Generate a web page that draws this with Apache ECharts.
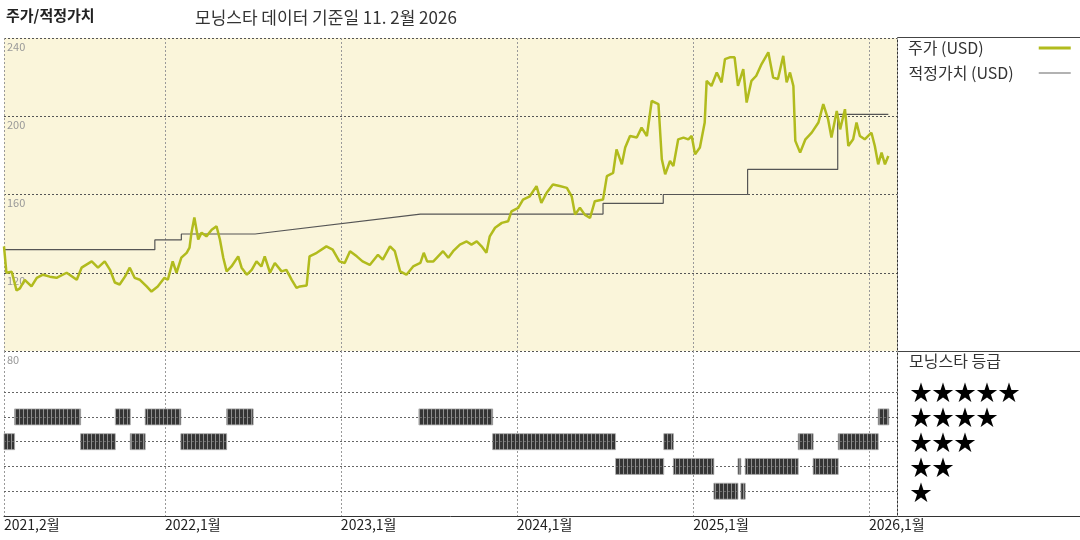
<!DOCTYPE html>
<html>
<head>
<meta charset="utf-8">
<script src="https://cdn.jsdelivr.net/npm/echarts@6/dist/echarts.min.js"></script>
<style>
  html, body { margin: 0; padding: 0; background: #fff; }
  #chart { width: 1080px; height: 540px; }
</style>
</head>
<body>
<div id="chart"></div>
<script>
// 주가 (USD), 대략 열흘 간격으로 읽은 값
const priceDates = [
  '2021-02-01','2021-02-06','2021-02-17','2021-02-27','2021-03-06','2021-03-16','2021-03-30','2021-04-10',
  '2021-04-23','2021-05-07','2021-05-21','2021-06-11','2021-07-02','2021-07-12','2021-08-02','2021-08-15',
  '2021-08-29','2021-09-09','2021-09-19','2021-09-29','2021-10-10','2021-10-20','2021-10-30','2021-11-10',
  '2021-11-24','2021-12-04','2021-12-17','2021-12-31','2022-01-07','2022-01-17','2022-01-25','2022-02-04',
  '2022-02-15','2022-02-21','2022-02-25','2022-03-03','2022-03-11','2022-03-18','2022-03-28','2022-04-08',
  '2022-04-18','2022-04-25','2022-05-02','2022-05-09','2022-05-19','2022-06-02','2022-06-09','2022-06-20',
  '2022-06-30','2022-07-10','2022-07-20','2022-07-27','2022-08-07','2022-08-17','2022-08-31','2022-09-10',
  '2022-09-21','2022-10-01','2022-10-08','2022-10-22','2022-10-28','2022-11-12','2022-12-02','2022-12-15',
  '2022-12-29','2023-01-09','2023-01-20','2023-02-03','2023-02-15','2023-03-02','2023-03-19','2023-03-29',
  '2023-04-13','2023-04-23','2023-05-04','2023-05-17','2023-05-31','2023-06-15','2023-06-22','2023-06-29',
  '2023-07-12','2023-08-01','2023-08-12','2023-08-22','2023-09-05','2023-09-19','2023-09-29','2023-10-10',
  '2023-10-20','2023-10-30','2023-11-06','2023-11-17','2023-12-01','2023-12-14','2023-12-21','2024-01-04',
  '2024-01-14','2024-01-28','2024-02-11','2024-02-21','2024-03-03','2024-03-16','2024-03-30','2024-04-14',
  '2024-04-24','2024-05-01','2024-05-11','2024-05-21','2024-06-01','2024-06-11','2024-06-28','2024-07-06',
  '2024-07-19','2024-07-26','2024-08-06','2024-08-13','2024-08-23','2024-09-06','2024-09-16','2024-09-27',
  '2024-10-07','2024-10-21','2024-10-28','2024-11-04','2024-11-14','2024-11-21','2024-12-01','2024-12-12',
  '2024-12-22','2024-12-29','2025-01-05','2025-01-15','2025-01-25','2025-01-29','2025-02-08','2025-02-19',
  '2025-03-01','2025-03-08','2025-03-18','2025-03-28','2025-04-04','2025-04-15','2025-04-22','2025-05-02',
  '2025-05-12','2025-05-23','2025-06-06','2025-06-16','2025-06-26','2025-07-07','2025-07-14','2025-07-21',
  '2025-07-28','2025-08-01','2025-08-11','2025-08-22','2025-09-04','2025-09-18','2025-09-28','2025-10-08',
  '2025-10-15','2025-10-26','2025-11-02','2025-11-12','2025-11-19','2025-11-29','2025-12-06','2025-12-13',
  '2025-12-23','2026-01-06','2026-01-13','2026-01-20','2026-01-27','2026-02-03','2026-02-10'
];
const priceValues = [
  133.5, 120, 120.5, 111, 112, 116.4, 113, 117.4,
  119, 118, 117.4, 120, 116.4, 122.6, 125.8, 122.6,
  125.8, 121.5, 115, 114, 118, 122.6, 117.4, 116.4,
  113, 110.4, 113, 117.4, 116.4, 125.8, 120, 127.7,
  130.2, 132.8, 140.5, 148.2, 137, 140.5, 138.6, 142,
  143.8, 137, 127.7, 120.7, 123.2, 128.4, 122.6, 119,
  121.5, 125.8, 123.2, 128.4, 120, 125, 120.7, 121.5,
  116.4, 112.3, 113, 113.5, 128.4, 130.2, 133.5, 131.8,
  125.8, 125, 131, 128.4, 125.8, 124, 129.2, 126.7,
  133.5, 131, 120.7, 119, 123.2, 125, 130.2, 125.8,
  125.8, 131, 127.7, 131, 134.4, 136, 134.4, 136,
  133.5, 130.2, 138.6, 143, 145.5, 146.3, 151.4, 153.2,
  157.4, 159.1, 164.3, 155.7, 160.9, 165.1, 164.3, 163.4,
  159.1, 149.7, 153.2, 149.7, 148, 156.6, 157.4, 169.4,
  171.1, 183.1, 175.4, 184, 189.9, 189.1, 194.2, 189.9,
  207.8, 206.2, 178, 170.3, 177.1, 174.5, 188.2, 189.1,
  188.2, 189.9, 180.5, 184, 196.8, 218.1, 215.5, 222.4,
  217.3, 229.2, 230.1, 230.1, 215.5, 224.1, 207, 218.1,
  220.7, 226.7, 232.7, 219.8, 219, 230.9, 217.3, 222.4,
  215.5, 187.4, 181.4, 188.2, 191.6, 196.8, 206.2, 198.5,
  189.1, 202.7, 193.3, 203.6, 184.8, 188.2, 196.8, 189.9,
  188.2, 191.6, 184.8, 175.4, 181.4, 175.4, 179.7
];

// 적정가치 (USD)
const fairDates = [
  '2021-02-01','2021-12-11','2021-12-11','2022-02-04','2022-02-04','2022-07-07','2023-06-15','2024-06-28',
  '2024-06-28','2024-10-31','2024-10-31','2025-04-24','2025-04-24','2025-10-28','2025-10-28','2026-02-10'
];
const fairValues = [
  131.8, 131.8, 136.8, 136.8, 139.8, 139.8, 150, 150,
  155.5, 155.5, 160, 160, 172.8, 172.8, 201, 201
];

// 모닝스타 등급 구간
const ratingStart = [
  '2021-02-01','2021-02-23','2021-07-10','2021-09-20','2021-10-21','2021-11-21','2022-02-03','2022-05-09',
  '2023-06-12','2023-11-12','2024-07-24','2024-11-01','2024-11-21','2025-02-13','2025-04-04','2025-04-10',
  '2025-04-19','2025-08-07','2025-09-07','2025-10-29','2026-01-20'
];
const ratingEnd = [
  '2021-02-23','2021-07-10','2021-09-20','2021-10-21','2021-11-21','2022-02-03','2022-05-09','2022-07-03',
  '2023-11-12','2024-07-24','2024-11-01','2024-11-21','2025-02-13','2025-04-04','2025-04-10','2025-04-19',
  '2025-08-07','2025-09-07','2025-10-29','2026-01-20','2026-02-11'
];
const ratingStars = [3, 4, 3, 4, 3, 4, 3, 4, 4, 3, 2, 3, 2, 1, 2, 1, 2, 3, 2, 3, 4];
const ratingLevels = [1, 2, 3, 4, 5];

var myChart = echarts.init(document.getElementById('chart'));

// 등급 막대 줄무늬
var stripe = document.createElement('canvas');
stripe.width = 4;
stripe.height = 16;
var ctx = stripe.getContext('2d');
ctx.fillStyle = '#353535';
ctx.fillRect(0, 0, 4, 16);
ctx.fillStyle = '#8e8e8e';
ctx.fillRect(3, 0, 1, 16);

var dateLabel = function (value) {
  var d = new Date(value);
  return d.getFullYear() + ',' + (d.getMonth() + 1) + '월';
};
var YEAR = 365 * 24 * 3600 * 1000;

let option = {
  animation: false,
  textStyle: { fontFamily: 'Noto Sans CJK KR' },
  title: [
    { text: '주가/적정가치', left: 6, top: 8, padding: 0,
      textStyle: { fontSize: 15, fontWeight: 'bold', color: '#222' } },
    { text: '모닝스타 데이터 기준일 11. 2월 2026', left: 195, top: 9, padding: 0,
      textStyle: { fontSize: 17, fontWeight: 'normal', color: '#333' } },
    { text: '모닝스타 등급', left: 909, top: 353, padding: 0,
      textStyle: { fontSize: 16, fontWeight: 'normal', color: '#333' } }
  ],
  legend: {
    orient: 'vertical',
    left: 908,
    top: 38,
    padding: 0,
    itemGap: 5,
    align: 'right',
    itemWidth: 32,
    itemHeight: 10,
    itemStyle: { opacity: 0 },
    textStyle: { fontSize: 16, color: '#333', lineHeight: 20 },
    data: [
      { name: '주가 (USD)', textStyle: { padding: [0, 50, 0, 0] }, lineStyle: { width: 3, color: '#b1bb1d' } },
      { name: '적정가치 (USD)', textStyle: { padding: [0, 20, 0, 0] }, lineStyle: { width: 1.2, color: '#666' } }
    ]
  },
  grid: [
    { left: 4, right: 183, top: 38, bottom: 189, show: true, backgroundColor: '#faf5da', borderWidth: 0 },
    { left: 4, right: 183, top: 351, bottom: 24 }
  ],
  xAxis: [
    {
      type: 'time', gridIndex: 0, min: '2021-02-01', max: '2026-02-28',
      minInterval: YEAR, maxInterval: YEAR + 24 * 3600 * 1000,
      axisLine: { show: false }, axisTick: { show: false }, axisLabel: { show: false },
      splitLine: { show: true, lineStyle: { color: '#999', type: [2, 2], width: 1 } }
    },
    {
      type: 'time', gridIndex: 1, min: '2021-02-01', max: '2026-02-28',
      minInterval: YEAR, maxInterval: YEAR + 24 * 3600 * 1000,
      axisLine: { show: true, lineStyle: { color: '#333', width: 1 } },
      axisTick: { show: false },
      axisLabel: {
        formatter: dateLabel, align: 'left', color: '#222', fontSize: 14, margin: 2,
        showMinLabel: true, showMaxLabel: false, hideOverlap: false
      },
      splitLine: { show: true, lineStyle: { color: '#999', type: [2, 2], width: 1 } }
    }
  ],
  yAxis: [
    {
      type: 'value', gridIndex: 0, min: 80, max: 240, interval: 40,
      axisLine: { show: false }, axisTick: { show: false },
      axisLabel: { inside: true, verticalAlign: 'top', color: '#999', fontSize: 11, margin: 3, padding: [3, 0, 0, 0] },
      splitLine: { show: true, lineStyle: { color: '#555', type: [2, 2], width: 1 } }
    },
    {
      type: 'value', gridIndex: 1, position: 'right', min: 0, max: 6.66, interval: 1,
      axisLine: { show: false }, axisTick: { show: false }, splitLine: { show: false },
      axisLabel: {
        formatter: function (v) { return (v >= 1 && v <= 5) ? '★'.repeat(v) : ''; },
        color: '#000', fontSize: 22, margin: 13, align: 'left'
      }
    }
  ],
  graphic: [
    { type: 'line', silent: true, shape: { x1: 897.5, y1: 37.5, x2: 1080, y2: 37.5 }, style: { stroke: '#444', lineWidth: 1 } },
    { type: 'line', silent: true, shape: { x1: 897.5, y1: 37.5, x2: 897.5, y2: 516 }, style: { stroke: '#333', lineWidth: 1 } },
    { type: 'line', silent: true, shape: { x1: 897.5, y1: 351.5, x2: 1080, y2: 351.5 }, style: { stroke: '#444', lineWidth: 1 } },
    { type: 'line', silent: true, shape: { x1: 897.5, y1: 516.5, x2: 1080, y2: 516.5 }, style: { stroke: '#333', lineWidth: 1 } }
  ],
  series: [
    {
      name: '적정가치 (USD)', type: 'line', xAxisIndex: 0, yAxisIndex: 0,
      symbol: 'none', silent: true,
      lineStyle: { color: '#555', width: 1.2 }, itemStyle: { color: '#555' },
      data: fairDates.map((d, i) => [d, fairValues[i]])
    },
    {
      name: '주가 (USD)', type: 'line', xAxisIndex: 0, yAxisIndex: 0,
      symbol: 'none', silent: true,
      lineStyle: { color: '#b1bb1d', width: 2.5 }, itemStyle: { color: '#b1bb1d' },
      data: priceDates.map((d, i) => [d, priceValues[i]])
    },
    {
      // 등급 행 점선
      name: 'rows', type: 'line', xAxisIndex: 1, yAxisIndex: 1, data: [], silent: true,
      markLine: {
        silent: true, symbol: 'none', label: { show: false },
        lineStyle: { color: '#666', type: [2, 2], width: 1 },
        data: ratingLevels.map(v => ({ yAxis: v }))
      }
    },
    {
      name: 'rating', type: 'custom', xAxisIndex: 1, yAxisIndex: 1, silent: true,
      dimensions: [{ name: 's', type: 'time' }, { name: 'e', type: 'time' }, { name: 'r', type: 'number' }],
      encode: { x: [0, 1], y: 2 },
      data: ratingStars.map((r, i) => [ratingStart[i], ratingEnd[i], r]),
      renderItem: function (params, api) {
        var a = api.coord([api.value(0), api.value(2)]);
        var b = api.coord([api.value(1), api.value(2)]);
        return {
          type: 'rect',
          shape: { x: a[0], y: a[1] - 8, width: Math.max(b[0] - a[0], 1), height: 16 },
          style: { fill: { image: stripe, repeat: 'repeat' }, stroke: '#aaa', lineWidth: 0.8 }
        };
      }
    }
  ]
};
myChart.setOption(option);
</script>
</body>
</html>
